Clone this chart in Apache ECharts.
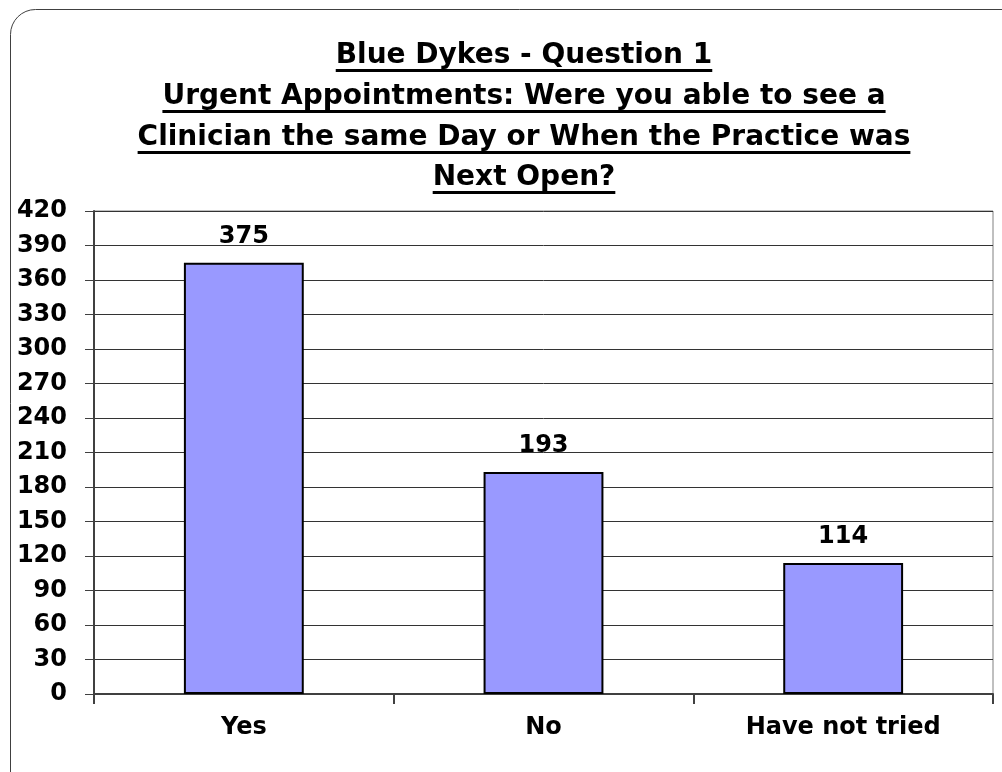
<!DOCTYPE html>
<html><head><meta charset="utf-8">
<script src="https://cdn.jsdelivr.net/npm/echarts@6/dist/echarts.min.js"></script>
<style>html,body{margin:0;padding:0;background:#fff}#c{width:1002px;height:772px}</style>
</head><body><div id="c"></div>
<script>
const titleLines = [
  'Blue Dykes - Question 1',
  'Urgent Appointments: Were you able to see a',
  'Clinician the same Day or When the Practice was',
  'Next Open?'
];
const categories = ['Yes', 'No', 'Have not tried'];
const values = [375, 193, 114];
const yMin = 0, yMax = 420, yStep = 30;

const FONT = '"DejaVu Sans", Verdana, sans-serif';
const titleSize = 28;
const titleCx = 524;
const baselines = [66, 107, 148, 188];

const cv = document.createElement('canvas').getContext('2d');
cv.font = 'bold ' + titleSize + 'px ' + FONT;

const graphics = [{
  type: 'rect', silent: true, z: -1,
  shape: { x: 10.5, y: 9.5, width: 1030, height: 800, r: 25 },
  style: { fill: 'none', stroke: '#404040', lineWidth: 1 }
}];
titleLines.forEach((t, i) => {
  const w = cv.measureText(t).width;
  graphics.push({
    type: 'text', silent: true,
    style: { text: t, x: titleCx, y: baselines[i] - titleSize * 0.36, align: 'center', verticalAlign: 'middle',
      font: 'bold ' + titleSize + 'px ' + FONT, fill: '#000' }
  });
  graphics.push({
    type: 'rect', silent: true,
    shape: { x: titleCx - w / 2, y: baselines[i] + 3, width: w, height: 3 },
    style: { fill: '#000' }
  });
});

const chart = echarts.init(document.getElementById('c'), null, { renderer: 'canvas' });
chart.setOption({
  animation: false,
  backgroundColor: '#fff',
  graphic: graphics,
  grid: { left: 94, right: 9, top: 211, bottom: 78, show: true, borderColor: '#808080', borderWidth: 1, outerBoundsMode: 'none' },
  xAxis: {
    type: 'category', data: categories,
    axisLine: { show: true, lineStyle: { color: '#404040', width: 2 } },
    axisTick: { show: true, length: 10, lineStyle: { color: '#404040', width: 2 } },
    axisLabel: { fontFamily: FONT, fontWeight: 'bold', fontSize: 24, color: '#000', margin: 22 }
  },
  yAxis: {
    type: 'value', min: yMin, max: yMax, interval: yStep,
    axisLine: { show: true, lineStyle: { color: '#404040', width: 2 } },
    axisTick: { show: true, length: 9, lineStyle: { color: '#404040' } },
    axisLabel: { fontFamily: FONT, fontWeight: 'bold', fontSize: 24, color: '#000', margin: 27 },
    splitLine: { show: true, lineStyle: { color: '#333', width: 1 } }
  },
  series: [{
    type: 'bar', data: values, barWidth: '40%',
    itemStyle: { color: '#9999FF', borderColor: '#000', borderWidth: 2 },
    label: { show: true, position: 'top', distance: 14, fontFamily: FONT, fontWeight: 'bold', fontSize: 24, color: '#000' }
  }]
});
</script>
</body></html>
